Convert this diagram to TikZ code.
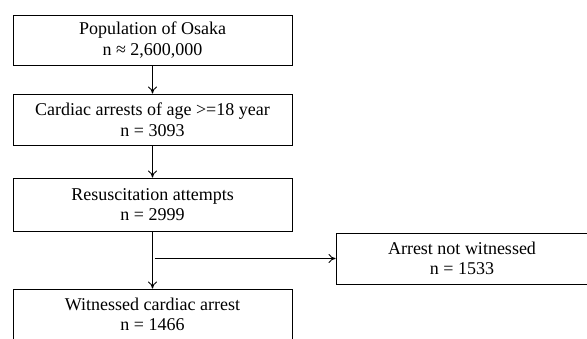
\documentclass[tikz,border=0pt]{standalone}
\usepackage{fontspec}
\setmainfont{Liberation Serif}
\usepackage{tikz}
\usetikzlibrary{arrows, arrows.meta, positioning}

\begin{document}
\begin{tikzpicture}[x=1pt, y=-1pt,
    flowbox/.style={draw, line width=0.9pt, align=center, inner sep=0pt,
        font=\fontsize{18}{20.5}\selectfont},
    leftbox/.style={flowbox, minimum width=279pt},
    flowarrow/.style={-{To[length=7pt, width=9pt, line width=0.9pt]}, line width=0.9pt}]
    \useasboundingbox (0,0) rectangle (587,338);
    \clip (0,0) rectangle (587,338);

    % Draw boxes
    \node[leftbox, minimum height=50pt] (pop) at (152.5,40) {Population of Osaka\\n ≈ 2,600,000};
    \node[leftbox, minimum height=51pt] (cardiac) at (152.5,119.5) {Cardiac arrests of age >=18 year\\n = 3093};
    \node[leftbox, minimum height=53pt] (resus) at (152.5,204.5) {Resuscitation attempts\\n = 2999};
    \node[leftbox, minimum height=51pt] (witnessed) at (152.5,314.5) {Witnessed cardiac arrest\\n = 1466};
    \node[flowbox, minimum width=252pt, minimum height=51pt] (notwit) at (462,258.5) {Arrest not witnessed\\n = 1533};

    % Draw arrows
    \draw[flowarrow] (pop) -- (cardiac);
    \draw[flowarrow] (cardiac) -- (resus);
    \draw[flowarrow] (resus) -- (witnessed);

    % Branch to the right
    \coordinate (split) at ([xshift=2pt]resus.south |- notwit.west);
    \draw[flowarrow] (split) -- (notwit.west);
\end{tikzpicture}
\end{document}
